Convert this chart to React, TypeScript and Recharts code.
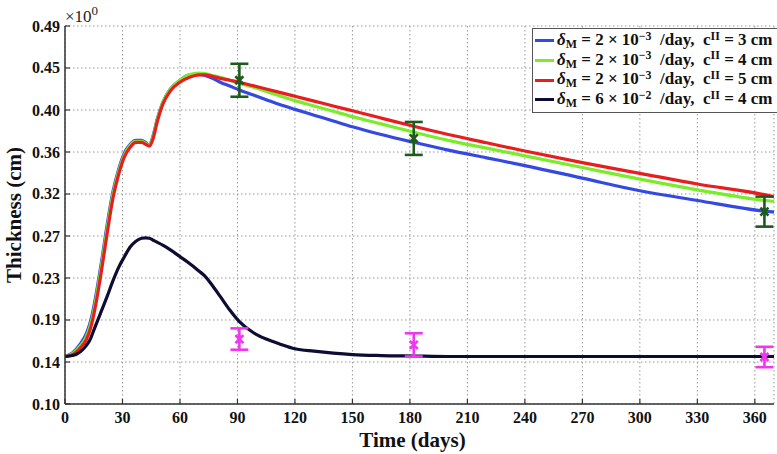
import React from 'react';
import { ComposedChart, Line, Scatter, ErrorBar, XAxis, YAxis, CartesianGrid, Legend } from 'recharts';

// ---------- data ----------
const days = [0, 4, 8, 11, 13, 15, 17, 19, 22, 25, 28, 31, 34, 37, 40, 42, 44, 46, 48, 51, 55, 60, 65, 70, 73, 77, 81, 86, 91, 98, 105, 112, 120, 130, 140, 150, 165, 182, 200, 220, 240, 270, 300, 330, 365, 370];

const blueVals = [0.149, 0.153, 0.162, 0.172, 0.183, 0.2, 0.222, 0.246, 0.285, 0.319, 0.342, 0.359, 0.368, 0.372, 0.372, 0.37, 0.367, 0.377, 0.393, 0.411, 0.425, 0.434, 0.4395, 0.44, 0.439, 0.436, 0.432, 0.428, 0.424, 0.419, 0.414, 0.409, 0.404, 0.398, 0.392, 0.386, 0.378, 0.37, 0.362, 0.354, 0.346, 0.333, 0.32, 0.31, 0.299, 0.298];

const greenVals = [0.149, 0.152, 0.16, 0.169, 0.18, 0.196, 0.218, 0.242, 0.281, 0.316, 0.34, 0.357, 0.367, 0.371, 0.371, 0.369, 0.367, 0.376, 0.392, 0.411, 0.425, 0.434, 0.44, 0.4415, 0.441, 0.439, 0.437, 0.434, 0.431, 0.427, 0.4225, 0.418, 0.413, 0.4075, 0.402, 0.3965, 0.389, 0.3805, 0.372, 0.364, 0.356, 0.344, 0.332, 0.321, 0.31, 0.309];

const redVals = [0.149, 0.151, 0.158, 0.166, 0.176, 0.192, 0.213, 0.237, 0.276, 0.312, 0.337, 0.355, 0.365, 0.37, 0.37, 0.368, 0.366, 0.374, 0.39, 0.409, 0.423, 0.432, 0.437, 0.4395, 0.4395, 0.438, 0.436, 0.434, 0.432, 0.4285, 0.425, 0.4215, 0.4175, 0.4125, 0.4075, 0.4025, 0.395, 0.3865, 0.378, 0.3695, 0.361, 0.349, 0.338, 0.327, 0.316, 0.314];

const darkVals = [0.149, 0.15, 0.154, 0.16, 0.166, 0.176, 0.186, 0.196, 0.211, 0.227, 0.241, 0.252, 0.262, 0.268, 0.271, 0.2715, 0.271, 0.269, 0.267, 0.264, 0.259, 0.252, 0.245, 0.237, 0.232, 0.222, 0.211, 0.197, 0.185, 0.174, 0.167, 0.162, 0.157, 0.1545, 0.1525, 0.151, 0.15, 0.1495, 0.149, 0.149, 0.149, 0.149, 0.149, 0.149, 0.149, 0.149];

const obsDays = [91, 182, 365];
const thickObs = [0.434, 0.374, 0.2985];
const thickErr = [0.017, 0.017, 0.0155];
const thinObs = [0.167, 0.161, 0.1485];
const thinErr = [0.011, 0.012, 0.0105];

const xTicks = [0, 30, 60, 90, 120, 150, 180, 210, 240, 270, 300, 330, 360];
const yTicks = [0.1, 0.14333, 0.18667, 0.23, 0.27333, 0.31667, 0.36, 0.40333, 0.44667, 0.49];

const legendDelta = ['2', '2', '2', '6'];
const legendExp = ['−3', '−3', '−3', '−2'];
const legendC = ['3', '4', '5', '4'];

// ---------- styles ----------
const FONT = "'Liberation Serif', 'Times New Roman', serif";
const seriesColors = ['#3349e2', '#7aec2a', '#e81e1e', '#0d0d33'];
const seriesVals = [blueVals, greenVals, redVals, darkVals];
const thickColor = '#1e5a1e';
const thinColor = '#ee38ee';

const toPoints = (vals: number[]) => days.map((d, i) => ({ day: d, v: vals[i] }));
const toObs = (vals: number[], errs: number[]) => obsDays.map((d, i) => ({ day: d, v: vals[i], err: errs[i] }));

const XTick = (props: any) => {
  const { x, y, payload } = props;
  return (
    <g>
      <line x1={x} x2={x} y1={y} y2={y - 5} stroke="#333" strokeWidth={1.2} />
      <text x={x} y={y + 19} textAnchor="middle" fontFamily={FONT} fontWeight="bold" fontSize={16} fill="#111">
        {payload.value}
      </text>
    </g>
  );
};

const YTick = (props: any) => {
  const { x, y, payload } = props;
  return (
    <g>
      <line x1={x} x2={x + 5} y1={y} y2={y} stroke="#333" strokeWidth={1.2} />
      <text x={x - 5} y={y + 5.5} textAnchor="end" fontFamily={FONT} fontWeight="bold" fontSize={16} fill="#111">
        {Number(payload.value).toFixed(2)}
      </text>
    </g>
  );
};

const renderXLabel = (props: any) => {
  const vb = props.viewBox || { x: 65, y: 404, width: 709, height: 50 };
  return (
    <text x={vb.x + vb.width / 2 - 7} y={vb.y + 43} textAnchor="middle" fontFamily={FONT} fontWeight="bold" fontSize={21} fill="#111">
      Time (days)
    </text>
  );
};

const renderYLabel = (props: any) => {
  const vb = props.viewBox || { x: 0, y: 26, width: 65, height: 378 };
  const cy = vb.y + vb.height / 2;
  return (
    <g>
      <text transform={`translate(21, ${cy}) rotate(-90)`} textAnchor="middle" fontFamily={FONT} fontWeight="bold" fontSize={21} fill="#111">
        Thickness (cm)
      </text>
      <text x={vb.x + vb.width} y={vb.y - 4} fontFamily={FONT} fontSize={17} fill="#222">
        ×10<tspan dy={-7} fontSize={13}>0</tspan>
      </text>
    </g>
  );
};

const makeCross = (color: string) => (props: any) => {
  const { cx, cy } = props;
  const s = 4;
  return (
    <g stroke={color} strokeWidth={2.6}>
      <line x1={cx - s} y1={cy - s} x2={cx + s} y2={cy + s} />
      <line x1={cx - s} y1={cy + s} x2={cx + s} y2={cy - s} />
      <line x1={cx} y1={cy - s} x2={cx} y2={cy + s} />
    </g>
  );
};

const supStyle: React.CSSProperties = { position: 'relative', top: '-0.45em', fontSize: '0.7em' };
const subStyle: React.CSSProperties = { position: 'relative', top: '0.25em', fontSize: '0.7em' };

const renderLegend = () => (
  <div
    style={{
      border: '1px solid #555',
      background: '#fff',
      padding: '2px 4px 2px 2px',
      fontFamily: FONT,
      fontWeight: 'bold',
      fontSize: 17,
      lineHeight: '18.7px',
      color: '#111',
    }}
  >
    {seriesColors.map((c, i) => (
      <div key={i} style={{ display: 'flex', alignItems: 'center', whiteSpace: 'nowrap' }}>
        <span style={{ display: 'inline-block', width: 19, height: 3, background: c, marginRight: 3 }} />
        <span>
          <i>δ</i>
          <span style={subStyle}>M</span>
          {` = ${legendDelta[i]} × 10`}
          <span style={supStyle}>{legendExp[i]}</span>
          {'\u00a0 /day,\u00a0 c'}
          <span style={supStyle}>II</span>
          {` = ${legendC[i]} cm`}
        </span>
      </div>
    ))}
  </div>
);

export default function App() {
  return (
    <div style={{ position: 'absolute', left: 0, top: 0, width: 777, height: 454, background: '#fff' }}>
      <ComposedChart width={777} height={454} margin={{ top: 26, right: 3, bottom: 0, left: 0 }}>
        <CartesianGrid stroke="#999" strokeDasharray="1.5 2.5" strokeWidth={1} />
        <XAxis
          type="number"
          dataKey="day"
          domain={[0, 370]}
          ticks={xTicks}
          interval={0}
          allowDataOverflow
          tick={<XTick />}
          tickLine={false}
          tickSize={0}
          tickMargin={0}
          axisLine={{ stroke: '#333', strokeWidth: 1.5 }}
          height={50}
          label={renderXLabel}
        />
        <YAxis
          type="number"
          domain={[0.1, 0.49]}
          ticks={yTicks}
          interval={0}
          allowDataOverflow
          tick={<YTick />}
          tickLine={false}
          tickSize={0}
          tickMargin={0}
          axisLine={{ stroke: '#333', strokeWidth: 1.5 }}
          width={65}
          label={renderYLabel}
        />
        {seriesVals.map((vals, i) => (
          <Line
            key={i}
            data={toPoints(vals)}
            dataKey="v"
            type="monotone"
            stroke={seriesColors[i]}
            strokeWidth={3.2}
            dot={false}
            activeDot={false}
            isAnimationActive={false}
          />
        ))}
        <Scatter data={toObs(thickObs, thickErr)} dataKey="v" shape={makeCross(thickColor)} isAnimationActive={false}>
          <ErrorBar dataKey="err" direction="y" width={9} strokeWidth={2.6} stroke={thickColor} isAnimationActive={false} />
        </Scatter>
        <Scatter data={toObs(thinObs, thinErr)} dataKey="v" shape={makeCross(thinColor)} isAnimationActive={false}>
          <ErrorBar dataKey="err" direction="y" width={9} strokeWidth={2.6} stroke={thinColor} isAnimationActive={false} />
        </Scatter>
        <Legend
          layout="vertical"
          align="center"
          verticalAlign="middle"
          wrapperStyle={{ left: 532, top: 28, width: 'auto' }}
          content={renderLegend}
        />
      </ComposedChart>
    </div>
  );
}
